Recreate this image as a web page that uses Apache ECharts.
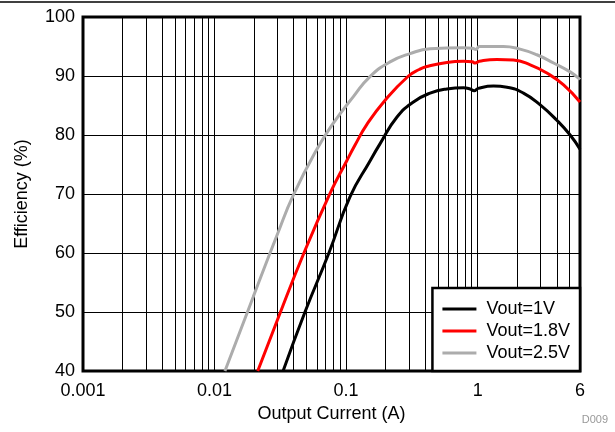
<!DOCTYPE html>
<html>
<head>
<meta charset="utf-8">
<script src="https://cdn.jsdelivr.net/npm/echarts@6/dist/echarts.min.js"></script>
<style>
  html, body { margin: 0; padding: 0; background: #fff; }
  #chart { width: 615px; height: 432px; }
</style>
</head>
<body>
<div id="chart"></div>
<script>
  // values
  const current1V = [0.0332, 0.0487, 0.074, 0.107, 0.152, 0.181, 0.243, 0.325, 0.435, 0.583, 0.78, 0.877, 0.94, 1.01, 1.32, 1.67, 2.23, 2.99, 4.0, 5.05, 6];
  const eff1V = [40, 50, 60, 69.5, 75.6, 78.5, 83.0, 85.6, 87.1, 87.8, 88.0, 87.8, 87.5, 87.9, 88.3, 88.1, 87.1, 85.1, 82.5, 80.0, 77.6];

  const current18V = [0.0213, 0.030, 0.0478, 0.0755, 0.101, 0.117, 0.144, 0.198, 0.298, 0.36, 0.411, 0.583, 0.78, 0.91, 0.957, 1.03, 1.4, 1.87, 2.51, 3.36, 4.5, 6];
  const eff18V = [40, 48.6, 60, 70.1, 75.6, 78.3, 81.8, 85.9, 90.0, 91.1, 91.6, 92.3, 92.5, 92.4, 92.2, 92.5, 92.8, 92.7, 91.9, 90.5, 88.5, 85.6];

  const current25V = [0.012, 0.0197, 0.0302, 0.0397, 0.0597, 0.080, 0.1136, 0.152, 0.216, 0.307, 0.435, 0.78, 0.91, 0.97, 1.03, 1.57, 2.07, 2.82, 3.78, 5.05, 6];
  const eff25V = [40, 52.6, 63.3, 69.8, 77.5, 82.0, 86.5, 89.9, 92.4, 93.8, 94.6, 94.8, 94.7, 94.5, 95.0, 95.0, 94.6, 93.6, 92.2, 90.7, 89.4];

  const seriesNames = ['Vout=1V', 'Vout=1.8V', 'Vout=2.5V'];
  const xLabelValues = [0.001, 0.01, 0.1, 1, 6];
  // vertical grid lines: every 1..9 of each decade
  const xGridValues = [
    0.002, 0.003, 0.004, 0.005, 0.006, 0.007, 0.008, 0.009,
    0.01, 0.02, 0.03, 0.04, 0.05, 0.06, 0.07, 0.08, 0.09,
    0.1, 0.2, 0.3, 0.4, 0.5, 0.6, 0.7, 0.8, 0.9,
    1, 2, 3, 4, 5
  ];

  const FONT = '"Liberation Sans", Arial, sans-serif';
  const pair = (xs, ys) => xs.map((x, i) => [x, ys[i]]);

  const chart = echarts.init(document.getElementById('chart'), null, { renderer: 'canvas' });

  const lineSeries = (name, xs, ys, color) => ({
    name, type: 'line', data: pair(xs, ys),
    symbol: 'none', smooth: 0.5,
    lineStyle: { color, width: 3 }, itemStyle: { color },
    clip: true, z: 3
  });

  chart.setOption({
    animation: false,
    backgroundColor: '#fff',
    textStyle: { fontFamily: FONT },
    grid: {
      left: 83, right: 35, top: 17, bottom: 61,
      show: true, borderColor: '#000', borderWidth: 3, backgroundColor: 'transparent'
    },
    xAxis: {
      type: 'log', logBase: 10, min: 0.001, max: 6,
      name: 'Output Current (A)', nameLocation: 'middle', nameGap: 32,
      nameTextStyle: { color: '#000', fontSize: 18, fontFamily: FONT },
      axisLine: { show: false },
      axisTick: { show: false, customValues: xGridValues },
      axisLabel: {
        customValues: xLabelValues, color: '#000', fontSize: 18, fontFamily: FONT, margin: 11,
        formatter: (v) => String(parseFloat(Number(v).toPrecision(6)))
      },
      splitLine: { show: true, lineStyle: { color: '#000', width: 1 } }
    },
    yAxis: {
      type: 'value', min: 40, max: 100, interval: 10,
      name: 'Efficiency (%)', nameLocation: 'middle', nameGap: 52,
      nameTextStyle: { color: '#000', fontSize: 18, fontFamily: FONT },
      axisLine: { show: false },
      axisTick: { show: false },
      axisLabel: { color: '#000', fontSize: 18, fontFamily: FONT, margin: 8 },
      splitLine: { show: true, lineStyle: { color: '#000', width: 1 } }
    },
    legend: {
      data: seriesNames,
      orient: 'vertical', right: 35, bottom: 61,
      backgroundColor: '#fff', borderColor: '#000', borderWidth: 2.5,
      padding: [12, 10, 9, 10], itemGap: 4,
      icon: 'rect', itemWidth: 34, itemHeight: 3,
      textStyle: { color: '#000', fontSize: 18, fontFamily: FONT, padding: [0, 0, 0, 5] },
      z: 10
    },
    graphic: [
      { type: 'line', shape: { x1: 0, y1: 2, x2: 615, y2: 2 }, style: { stroke: '#000', lineWidth: 1.5 } },
      { type: 'text', right: 7, top: 414, style: { text: 'D009', fill: '#999', font: '11px ' + FONT } }
    ],
    series: [
      lineSeries(seriesNames[0], current1V, eff1V, '#000000'),
      lineSeries(seriesNames[1], current18V, eff18V, '#ff0000'),
      lineSeries(seriesNames[2], current25V, eff25V, '#acacac')
    ]
  });
</script>
</body>
</html>
